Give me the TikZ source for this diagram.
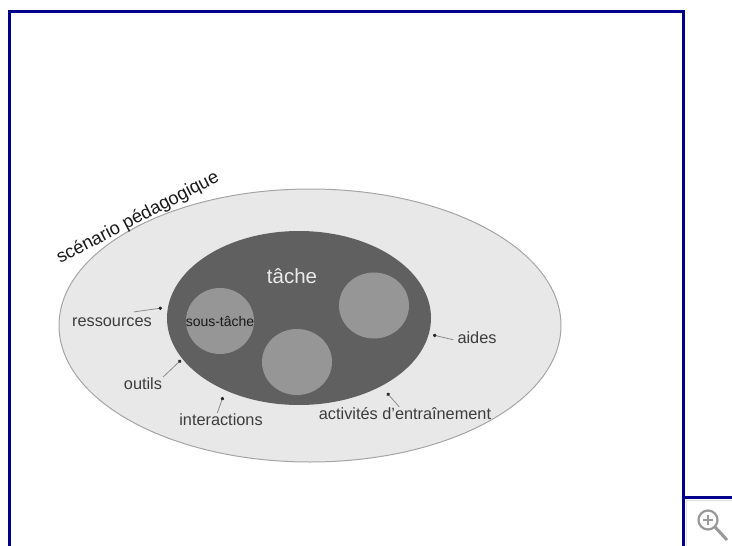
\documentclass[tikz,border=0pt]{standalone}
\usepackage{fontspec}
\setmainfont{Liberation Sans}
\usetikzlibrary{arrows.meta}
\definecolor{framecol}{RGB}{0,0,139}
\definecolor{outerfill}{RGB}{232,232,232}
\definecolor{outerline}{RGB}{165,165,165}
\definecolor{taskfill}{RGB}{96,96,96}
\definecolor{subfill}{RGB}{150,150,150}
\definecolor{labelcol}{RGB}{60,60,60}
\tikzset{
  x=1pt,y=-1pt,
  frameline/.style={draw=framecol,line width=3pt},
  outerell/.style={fill=outerfill,draw=outerline,line width=1pt},
  taskell/.style={fill=taskfill},
  subell/.style={fill=subfill},
  lab/.style={font=\fontsize{16.3}{18}\selectfont,text=labelcol,inner sep=0pt},
  pointer/.style={draw=black!45,line width=0.8pt,-{Circle[length=3.5pt,black!85]},shorten <=1pt},
  iconline/.style={draw=black!40,line width=2.2pt},
}
\begin{document}
\begin{tikzpicture}
\useasboundingbox (0,0) rectangle (732,546);
% frame
\draw[frameline] (9.5,546) -- (9.5,11.5) -- (683.5,11.5) -- (683.5,546);
\draw[frameline] (683.5,497.5) -- (732,497.5);
\draw[draw=black!12,line width=1pt] (732,500.5) -- (686.5,500.5) -- (686.5,546);
% ellipses
\path[outerell] (310,325.5) ellipse [x radius=251,y radius=136.5];
\path[taskell] (299,318) ellipse [x radius=132,y radius=87];
\path[subell] (220,321) ellipse [x radius=34,y radius=33];
\path[subell] (297,362) ellipse [x radius=35,y radius=33];
\path[subell] (374,305.5) ellipse [x radius=35,y radius=33];
% labels
\node[lab,font=\fontsize{18.3}{20}\selectfont,text=black!90,rotate=27.5] (lscen) at (138,218) {scénario pédagogique};
\node[lab,font=\fontsize{20.5}{22}\selectfont,text=white!92!black] (ltache) at (292,276) {tâche};
\node[lab,font=\fontsize{14}{15}\selectfont,text=black!90] (lsous) at (220,321) {sous-tâche};
\node[lab] (lres) at (112,322) {ressources};
\node[lab] (lout) at (143,384) {outils};
\node[lab] (lint) at (221,420) {interactions};
\node[lab] (lact) at (405,414) {activités d'entraînement};
\node[lab] (laid) at (477,338) {aides};
% connector tips
\coordinate (tres) at (162,308);
\coordinate (tout) at (181,360);
\coordinate (tint) at (223,397);
\coordinate (tact) at (387,393);
\coordinate (taid) at (433,335);
\coordinate (sres) at (133,312);
\draw[pointer] (sres) -- (tres);
\draw[pointer] (lout.north east) -- (tout);
\draw[pointer] (lint.north) ++(-4,0) coordinate (sint) (sint) -- (tint);
\draw[pointer] (lact.north) ++(-5,0) coordinate (sact) (sact) -- (tact);
\draw[pointer] (laid.west) ++(-3,2) coordinate (said) (said) -- (taid);
% magnifier icon
\draw[iconline] (708,520) circle [radius=9.5];
\draw[iconline,line width=1.3pt] (703,520) -- (713,520) (708,515) -- (708,525);
\draw[iconline,line width=3pt] (715,527) -- (727,540);
\end{tikzpicture}
\end{document}
